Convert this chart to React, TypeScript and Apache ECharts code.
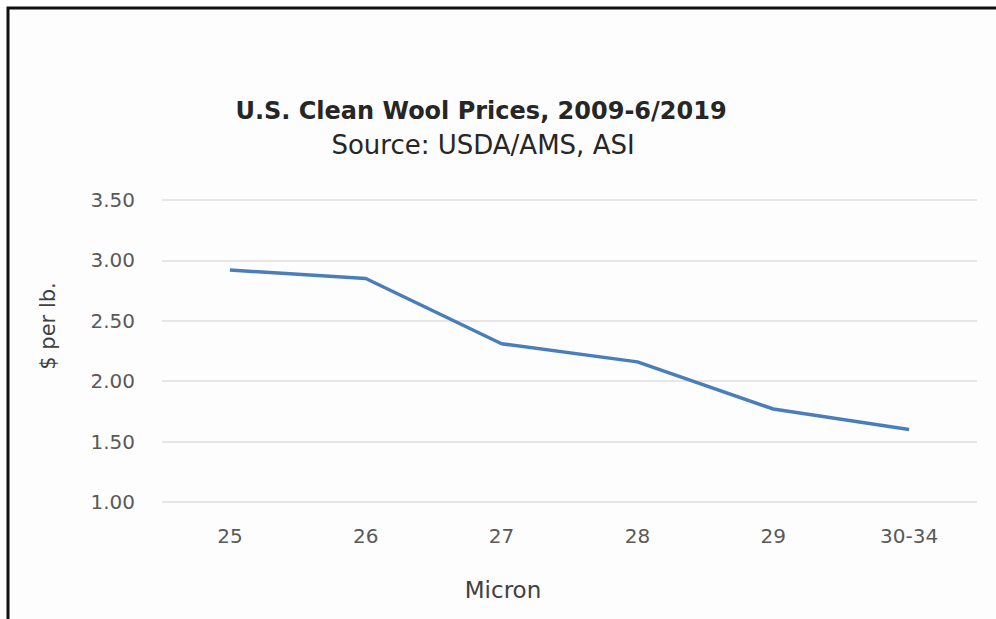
import React, { useEffect, useRef } from "react";
import * as echarts from "echarts";

const categories = ["25", "26", "27", "28", "29", "30-34"];
const prices = [2.92, 2.85, 2.31, 2.16, 1.77, 1.6];
const yMin = 1.0;
const yMax = 3.5;
const yInterval = 0.5;
const titleText = "U.S. Clean Wool Prices, 2009-6/2019";
const subtitleText = "Source: USDA/AMS, ASI";
const xName = "Micron";
const yName = "$ per lb.";

const FONT = "'DejaVu Sans', 'Open Sans', sans-serif";

export default function App() {
  const ref = useRef<HTMLDivElement>(null);
  useEffect(() => {
    if (!ref.current) return;
    const chart = echarts.init(ref.current, null, { renderer: "svg" });
    chart.setOption({
      animation: false,
      backgroundColor: "#ffffff",
      grid: { left: 162, right: 19, top: 200, bottom: 117, containLabel: false },
      xAxis: {
        type: "category",
        data: categories,
        boundaryGap: true,
        axisLine: { show: false },
        axisTick: { show: false },
        axisLabel: { color: "#595959", fontFamily: FONT, fontSize: 20, margin: 24 },
      },
      yAxis: {
        type: "value",
        min: yMin,
        max: yMax,
        interval: yInterval,
        axisLine: { show: false },
        axisTick: { show: false },
        splitLine: { lineStyle: { color: "#dedede", width: 1.5 } },
        axisLabel: {
          color: "#595959",
          fontFamily: FONT,
          fontSize: 20,
          margin: 27,
          formatter: (v: number) => v.toFixed(2),
        },
      },
      series: [
        {
          type: "line",
          data: prices,
          showSymbol: false,
          symbol: "none",
          lineStyle: { color: "#4a7ebb", width: 3.5 },
        },
      ],
      graphic: [
        {
          type: "rect",
          shape: { x: 8, y: 8, width: 1000, height: 700 },
          style: { fill: "#fdfdfd", stroke: "#111111", lineWidth: 3 },
          z: -10,
          silent: true,
        },
        {
          type: "text",
          x: 481,
          y: 111,
          style: {
            text: titleText,
            fill: "#262626",
            font: `bold 24px ${FONT}`,
            textAlign: "center",
            textVerticalAlign: "middle",
          },
        },
        {
          type: "text",
          x: 483,
          y: 145,
          style: {
            text: subtitleText,
            fill: "#262626",
            font: `26px ${FONT}`,
            textAlign: "center",
            textVerticalAlign: "middle",
          },
        },
        {
          type: "text",
          x: 503,
          y: 590,
          style: {
            text: xName,
            fill: "#404040",
            font: `23px ${FONT}`,
            textAlign: "center",
            textVerticalAlign: "middle",
          },
        },
        {
          type: "text",
          x: 48,
          y: 326,
          rotation: Math.PI / 2,
          style: {
            text: yName,
            fill: "#404040",
            font: `21px ${FONT}`,
            textAlign: "center",
            textVerticalAlign: "middle",
          },
        },
      ],
    });
    return () => chart.dispose();
  }, []);
  return (
    <div
      ref={ref}
      style={{ position: "fixed", left: 0, top: 0, width: 996, height: 619 }}
    />
  );
}
